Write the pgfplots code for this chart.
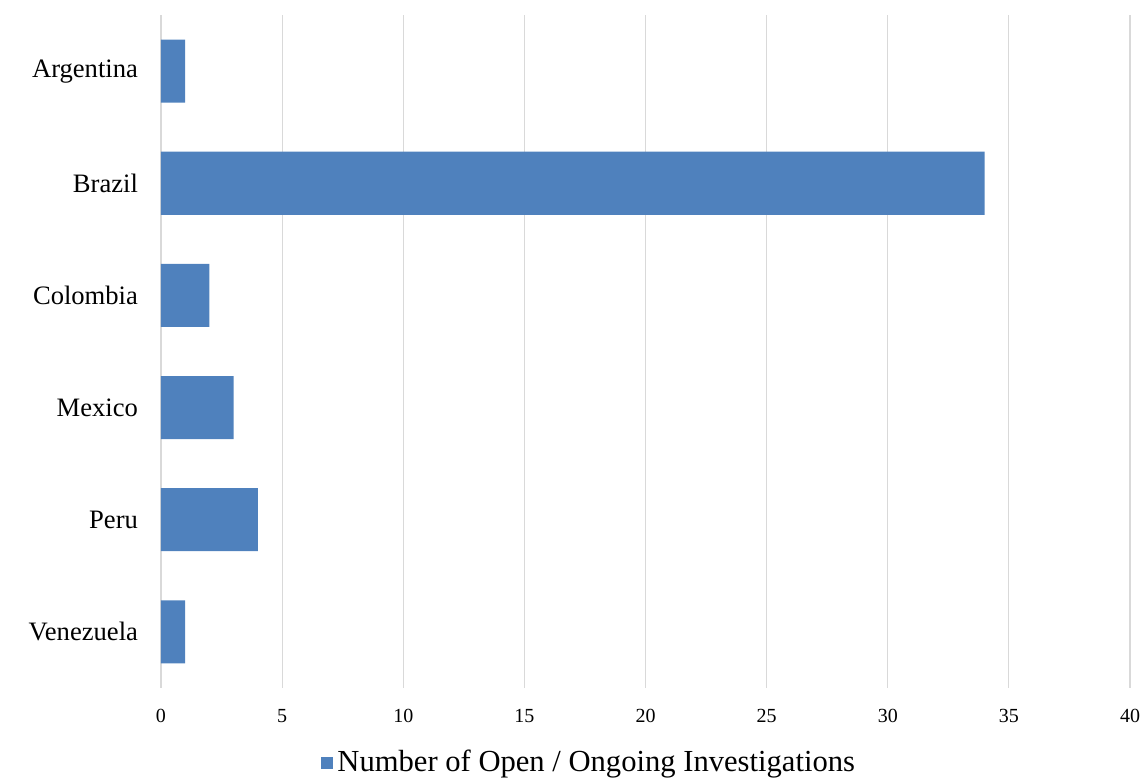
\documentclass[border=0pt]{standalone}
\usepackage{pgfplots}
\pgfplotsset{compat=1.18}
\usepackage{fontspec}
\setmainfont{Liberation Serif}
\definecolor{barblue}{HTML}{4F81BD}
\definecolor{gridgray}{HTML}{D9D9D9}
\begin{document}
\begin{tikzpicture}
\useasboundingbox (-80.5pt,-46pt) rectangle (491.5pt,344pt);
\begin{axis}[
  at={(0,0)}, anchor=south west,
  scale only axis, width=484.5pt, height=336.5pt,
  xbar, bar width=31.5pt,
  xmin=0, xmax=40, xtick={0,5,...,40},
  ymin=-0.5, ymax=5.5,
  ytick={0,1,2,3,4,5},
  yticklabels={Venezuela,Peru,Mexico,Colombia,Brazil,Argentina},
  axis line style={draw=none},
  major tick length=0pt,
  xmajorgrids, grid style={gridgray, line width=0.6pt},
  /pgf/number format/assume math mode=true,
  xticklabel style={font=\fontsize{10}{12}\selectfont, yshift=-7pt},
  yticklabel style={font=\fontsize{13.3}{15}\selectfont, xshift=-8pt},
  legend style={at={(0.443,-0.111)}, anchor=center, draw=none,
    font=\fontsize{15.3}{17}\selectfont, inner sep=1pt},
  legend cell align=left,
]
\addplot[fill=barblue, draw=none,
  legend image code/.code={\fill[barblue] (0pt,-3pt) rectangle (6pt,3pt);}]
  coordinates {(1,0) (4,1) (3,2) (2,3) (34,4) (1,5)};
\addlegendentry{Number of Open / Ongoing Investigations}
\end{axis}
\end{tikzpicture}
\end{document}
